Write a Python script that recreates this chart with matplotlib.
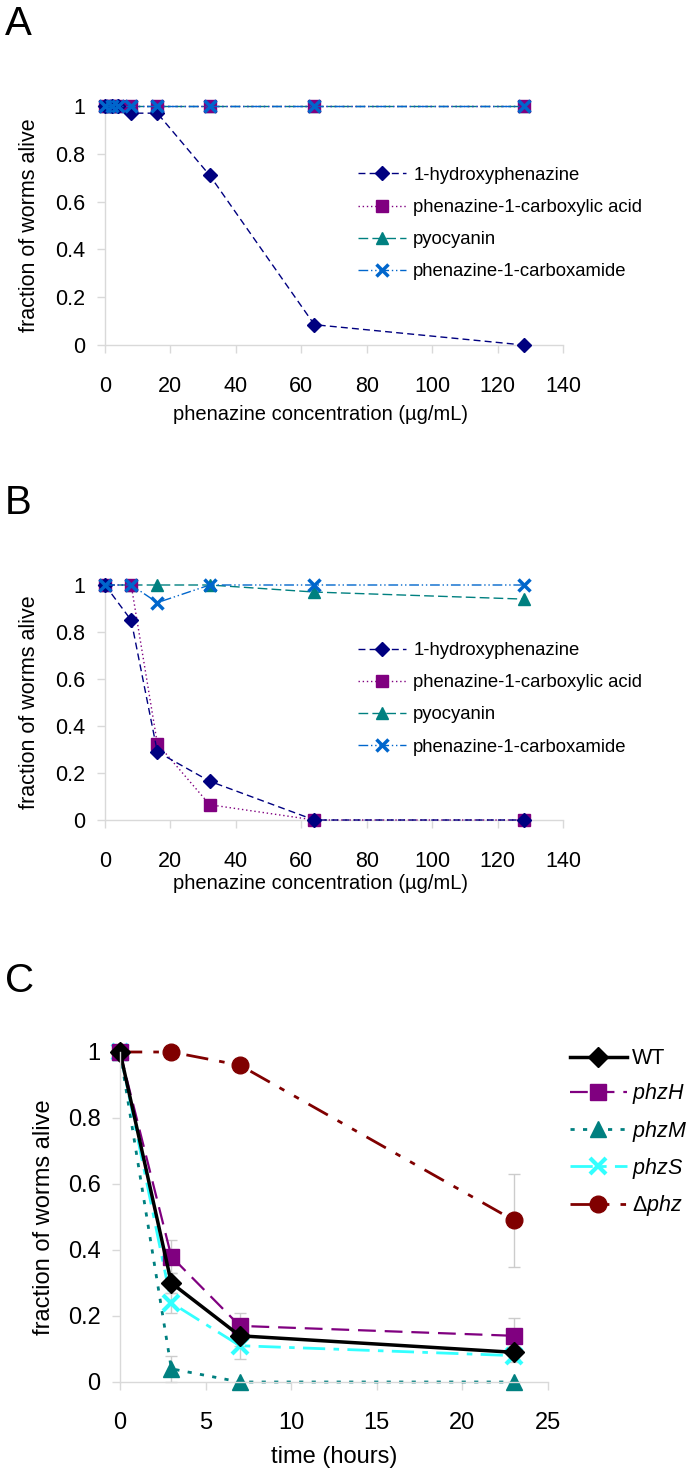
import numpy as np
import matplotlib
matplotlib.use("Agg")
import matplotlib.pyplot as plt

plt.rcParams['font.family'] = ['Liberation Sans', 'DejaVu Sans']
plt.rcParams['mathtext.fontset'] = 'custom'
plt.rcParams['mathtext.rm'] = 'Liberation Sans'
plt.rcParams['mathtext.it'] = 'Liberation Sans:italic'

# ---- data ----
conc_a = [0, 2, 4, 8, 16, 32, 64, 128]
hydroxy_a = [1, 1, 1, 0.97, 0.97, 0.71, 0.085, 0]
pca_a = [1, 1, 1, 1, 1, 1, 1, 1]
pyo_a = [1, 1, 1, 1, 1, 1, 1, 1]
amide_a = [1, 1, 1, 1, 1, 1, 1, 1]

conc_b = [0, 8, 16, 32, 64, 128]
hydroxy_b = [1, 0.85, 0.29, 0.165, 0, 0]
pca_b = [1, 1, 0.325, 0.065, 0, 0]
pyo_b = [1, 1, 1, 1, 0.97, 0.94]
amide_b = [1, 1, 0.925, 1, 1, 1]

hours = [0, 3, 7, 23]
wt = [1, 0.30, 0.14, 0.09]
wt_err = [0, 0.03, 0.03, 0.02]
phzH = [1, 0.38, 0.17, 0.14]
phzH_err = [0, 0.05, 0.04, 0.055]
phzM = [1, 0.04, 0, 0]
phzM_err = [0, 0.04, 0, 0]
phzS = [1, 0.24, 0.11, 0.08]
phzS_err = [0, 0.03, 0.04, 0.02]
dphz = [1, 1, 0.96, 0.49]
dphz_err = [0, 0, 0, 0.14]

phen_names = ["1-hydroxyphenazine", "phenazine-1-carboxylic acid",
              "pyocyanin", "phenazine-1-carboxamide"]

W, H = 698, 1473
fig = plt.figure(figsize=(W / 100, H / 100), dpi=100)

GRID = "#d9d9d9"


def px_axes(left, right, top, bottom):
    return fig.add_axes([left / W, 1 - bottom / H, (right - left) / W, (bottom - top) / H])


def style_axes(ax, size, xpad):
    for s in ["top", "right"]:
        ax.spines[s].set_visible(False)
    for s in ["left", "bottom"]:
        ax.spines[s].set_color(GRID)
        ax.spines[s].set_linewidth(1.0)
    ax.tick_params(direction="out", length=6, width=1, color=GRID, labelsize=size)
    ax.tick_params(axis="x", pad=xpad)
    ax.tick_params(axis="y", pad=8)
    ax.set_ylim(0, 1)
    ax.set_yticks([0, 0.2, 0.4, 0.6, 0.8, 1])
    ax.set_yticklabels(["0", "0.2", "0.4", "0.6", "0.8", "1"])


def phen_panel(ax, x, ys, legend_y):
    navy, purple, teal, blue = "#000080", "#800080", "#008080", "#0066cc"
    ax.plot(x, ys[0], color=navy, ls=(0, (5, 3)), lw=1, marker="D", ms=7.5, clip_on=False, zorder=5, label=phen_names[0])
    ax.plot(x, ys[1], color=purple, ls=(0, (1, 2)), lw=1, marker="s", ms=8, clip_on=False, zorder=4, label=phen_names[1])
    ax.plot(x, ys[2], color=teal, ls=(0, (7, 3)), lw=1, marker="^", ms=9, clip_on=False, zorder=3, label=phen_names[2])
    ax.plot(x, ys[3], color=blue, ls=(0, (7, 2, 1, 2, 1, 2)), lw=1, marker="x", ms=9, mew=2.5, clip_on=False, zorder=6, label=phen_names[3])
    style_axes(ax, 15.5, 16)
    ax.set_xlim(0, 140)
    ax.set_xticks(range(0, 141, 20))
    ax.set_ylabel("fraction of worms alive", fontsize=15.5)
    ax.set_xlabel("phenazine concentration (\u00b5g/mL)", fontsize=14.5)
    ax.legend(loc="upper left", bbox_to_anchor=(0.552, legend_y), frameon=False, fontsize=13.3,
              borderpad=0, borderaxespad=0, handlelength=2.6, handletextpad=0.4, labelspacing=0.82)


axA = px_axes(105, 563, 106, 345)
phen_panel(axA, conc_a, [hydroxy_a, pca_a, pyo_a, amide_a], 0.745)
axA.yaxis.set_label_coords(-0.142, 0.5)
axA.xaxis.set_label_coords(0.47, -0.25)

axB = px_axes(105, 563, 585, 820)
phen_panel(axB, conc_b, [hydroxy_b, pca_b, pyo_b, amide_b], 0.757)
axB.yaxis.set_label_coords(-0.142, 0.5)
axB.xaxis.set_label_coords(0.47, -0.23)

# ---- panel C ----
axC = px_axes(120, 548, 1052, 1382)
ekw = dict(fmt="none", ecolor="#cccccc", elinewidth=1, capsize=4, capthick=1, clip_on=False)
for ys, es in [(dphz, dphz_err), (phzM, phzM_err), (phzS, phzS_err), (phzH, phzH_err), (wt, wt_err)]:
    axC.errorbar(hours, ys, yerr=es, **ekw)
l_d, = axC.plot(hours, dphz, color="#800000", ls=(0, (8, 4, 2, 4, 2, 4)), lw=2, marker="o", ms=12, clip_on=False)
l_m, = axC.plot(hours, phzM, color="#008080", ls=(0, (1.5, 3)), lw=2, marker="^", ms=12, clip_on=False)
l_s, = axC.plot(hours, phzS, color="#33ffff", ls=(0, (8, 3, 2, 3)), lw=2, marker="x", ms=12, mew=3, clip_on=False)
l_h, = axC.plot(hours, phzH, color="#800080", ls=(0, (8, 4)), lw=1.6, marker="s", ms=12, clip_on=False)
l_w, = axC.plot(hours, wt, color="black", ls="-", lw=2.5, marker="D", ms=10, clip_on=False)
style_axes(axC, 17, 15.5)
axC.set_xlim(0, 25)
axC.set_xticks(range(0, 26, 5))
axC.set_ylabel("fraction of worms alive", fontsize=17)
axC.set_xlabel("time (hours)", fontsize=17)
axC.yaxis.set_label_coords(-0.152, 0.5)
axC.xaxis.set_label_coords(0.5, -0.195)
axC.legend([l_w, l_h, l_m, l_s, l_d],
           ["WT", "$\\mathit{phzH}$", "$\\mathit{phzM}$", "$\\mathit{phzS}$", "\u0394$\\mathit{phz}$"],
           loc="upper left", bbox_to_anchor=(1.051, 1.012),
           frameon=False, fontsize=15.5, borderpad=0, borderaxespad=0, handlelength=2.65,
           handletextpad=0.25, labelspacing=0.57)

# panel letters
fig.text(5 / W, 1 - 5 / H, "A", fontsize=29, va="top", ha="left")
fig.text(5 / W, 1 - 484 / H, "B", fontsize=29, va="top", ha="left")
fig.text(5 / W, 1 - 962 / H, "C", fontsize=29, va="top", ha="left")

fig.savefig("out.png", dpi=100)
